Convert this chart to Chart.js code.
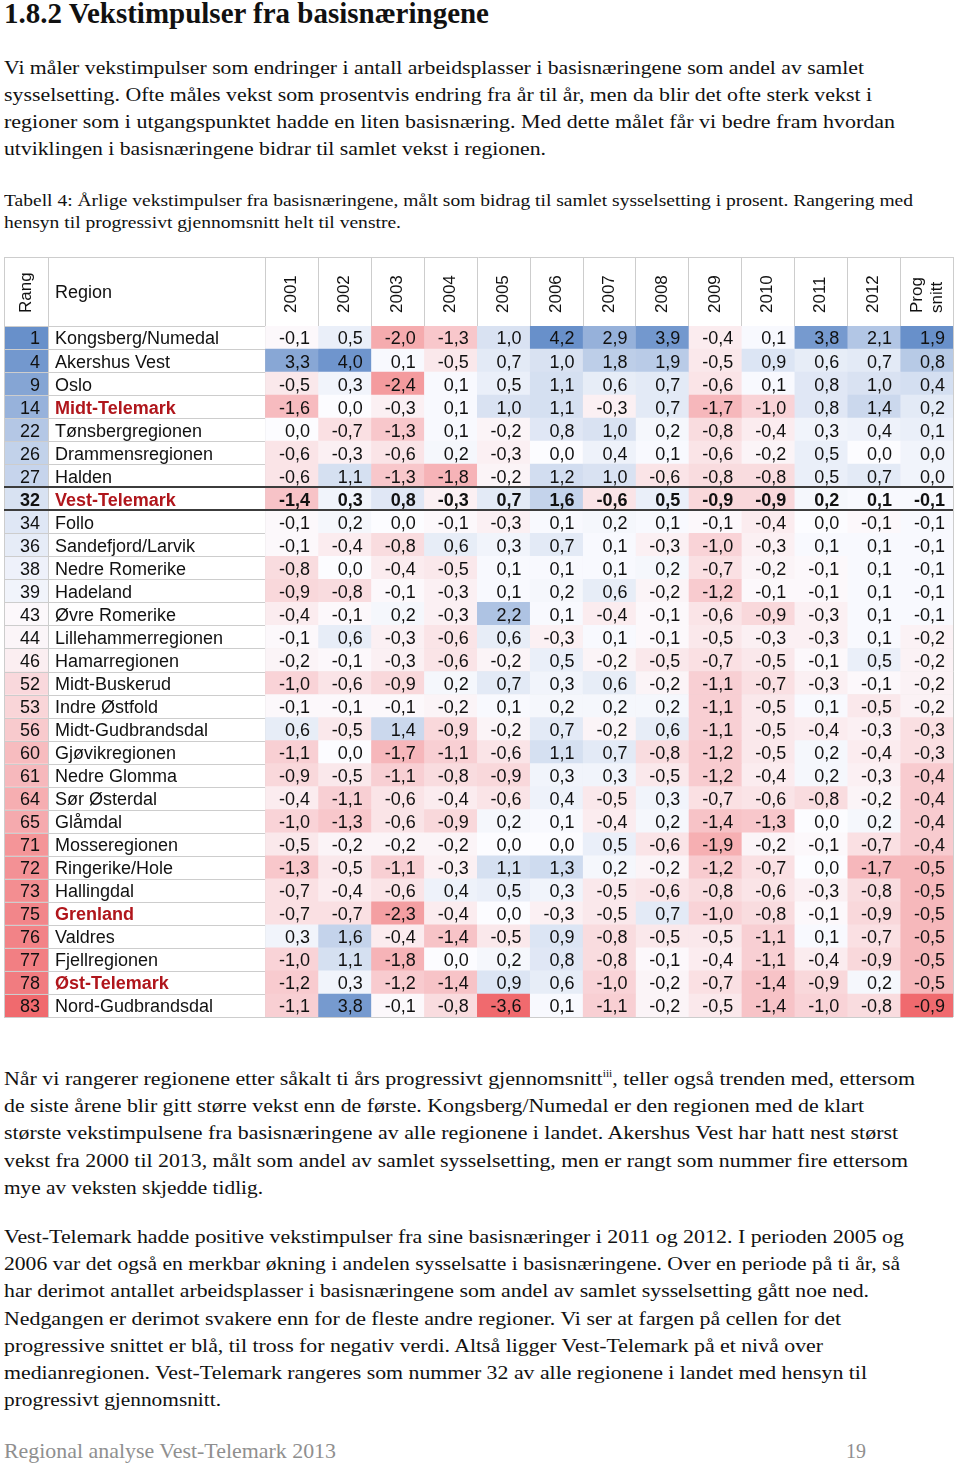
<!DOCTYPE html>
<html lang="no">
<head>
<meta charset="utf-8">
<title>Vekstimpulser fra basisnæringene</title>
<script src="https://cdn.jsdelivr.net/npm/chart.js@4.4.0/dist/chart.umd.min.js"></script>
<style>
    html, body { margin: 0; padding: 0; background: #fff; }
    body { width: 960px; height: 1466px; position: relative; overflow: hidden; font-family: "Liberation Serif", "DejaVu Serif", serif; color: #111; }
    .ln { position: absolute; left: 4px; white-space: nowrap; line-height: 1; font-size: 19px; transform-origin: 0 0; }
    .title { font-size: 29px; font-weight: bold; }
    .cap { font-size: 17px; }
    .foot { font-size: 22px; color: #8f8f8f; }
    sup { font-size: 10px; vertical-align: 8px; line-height: 0; }
    #tableWrap { position: absolute; left: 0; top: 250px; width: 960px; height: 772px; }
</style>
</head>
<body>

<div class="ln title" style="top:-1px" data-w="485">1.8.2 Vekstimpulser fra basisnæringene</div>

<div class="ln" style="top:58px" data-w="860">Vi måler vekstimpulser som endringer i antall arbeidsplasser i basisnæringene som andel av samlet</div>
<div class="ln" style="top:85px" data-w="868">sysselsetting. Ofte måles vekst som prosentvis endring fra år til år, men da blir det ofte sterk vekst i</div>
<div class="ln" style="top:112px" data-w="891">regioner som i utgangspunktet hadde en liten basisnæring. Med dette målet får vi bedre fram hvordan</div>
<div class="ln" style="top:139px" data-w="542">utviklingen i basisnæringene bidrar til samlet vekst i regionen.</div>

<div class="ln cap" style="top:192px" data-w="909">Tabell 4: Årlige vekstimpulser fra basisnæringene, målt som bidrag til samlet sysselsetting i prosent. Rangering med</div>
<div class="ln cap" style="top:214px" data-w="397">hensyn til progressivt gjennomsnitt helt til venstre.</div>

<div id="tableWrap"><canvas id="heatTable" width="960" height="772"></canvas></div>

<div class="ln" style="top:1069px" data-w="911">Når vi rangerer regionene etter såkalt ti års progressivt gjennomsnitt<sup>iii</sup>, teller også trenden med, ettersom</div>
<div class="ln" style="top:1096px" data-w="860">de siste årene blir gitt større vekst enn de første. Kongsberg/Numedal er den regionen med de klart</div>
<div class="ln" style="top:1123px" data-w="894">største vekstimpulsene fra basisnæringene av alle regionene i landet. Akershus Vest har hatt nest størst</div>
<div class="ln" style="top:1151px" data-w="904">vekst fra 2000 til 2013, målt som andel av samlet sysselsetting, men er rangt som nummer fire ettersom</div>
<div class="ln" style="top:1178px" data-w="259">mye av veksten skjedde tidlig.</div>

<div class="ln" style="top:1227px" data-w="900">Vest-Telemark hadde positive vekstimpulser fra sine basisnæringer i 2011 og 2012. I perioden 2005 og</div>
<div class="ln" style="top:1254px" data-w="896">2006 var det også en merkbar økning i andelen sysselsatte i basisnæringene. Over en periode på ti år, så</div>
<div class="ln" style="top:1281px" data-w="865">har derimot antallet arbeidsplasser i basisnæringene som andel av samlet sysselsetting gått noe ned.</div>
<div class="ln" style="top:1309px" data-w="837">Nedgangen er derimot svakere enn for de fleste andre regioner. Vi ser at fargen på cellen for det</div>
<div class="ln" style="top:1336px" data-w="819">progressive snittet er blå, til tross for negativ verdi. Altså ligger Vest-Telemark på et nivå over</div>
<div class="ln" style="top:1363px" data-w="863">medianregionen. Vest-Telemark rangeres som nummer 32 av alle regionene i landet med hensyn til</div>
<div class="ln" style="top:1390px" data-w="217">progressivt gjennomsnitt.</div>

<div class="ln foot" style="top:1440px" data-w="332">Regional analyse Vest-Telemark 2013</div>
<div class="ln foot" style="top:1440px; left:846px" data-w="20">19</div>

<script>
// Table data
const regions = [
    'Kongsberg/Numedal', 'Akershus Vest', 'Oslo', 'Midt-Telemark', 'Tønsbergregionen',
    'Drammensregionen', 'Halden', 'Vest-Telemark', 'Follo', 'Sandefjord/Larvik',
    'Nedre Romerike', 'Hadeland', 'Øvre Romerike', 'Lillehammerregionen', 'Hamarregionen',
    'Midt-Buskerud', 'Indre Østfold', 'Midt-Gudbrandsdal', 'Gjøvikregionen', 'Nedre Glomma',
    'Sør Østerdal', 'Glåmdal', 'Mosseregionen', 'Ringerike/Hole', 'Hallingdal',
    'Grenland', 'Valdres', 'Fjellregionen', 'Øst-Telemark', 'Nord-Gudbrandsdal'
];
const ranks = [1, 4, 9, 14, 22, 26, 27, 32, 34, 36, 38, 39, 43, 44, 46, 52, 53, 56, 60, 61, 64, 65, 71, 72, 73, 75, 76, 77, 78, 83];
const columnLabels = ['2001', '2002', '2003', '2004', '2005', '2006', '2007', '2008', '2009', '2010', '2011', '2012', 'Prog snitt'];

const y2001 = [-0.1, 3.3, -0.5, -1.6, 0.0, -0.6, -0.6, -1.4, -0.1, -0.1, -0.8, -0.9, -0.4, -0.1, -0.2, -1.0, -0.1, 0.6, -1.1, -0.9, -0.4, -1.0, -0.5, -1.3, -0.7, -0.7, 0.3, -1.0, -1.2, -1.1];
const y2002 = [0.5, 4.0, 0.3, 0.0, -0.7, -0.3, 1.1, 0.3, 0.2, -0.4, 0.0, -0.8, -0.1, 0.6, -0.1, -0.6, -0.1, -0.5, 0.0, -0.5, -1.1, -1.3, -0.2, -0.5, -0.4, -0.7, 1.6, 1.1, 0.3, 3.8];
const y2003 = [-2.0, 0.1, -2.4, -0.3, -1.3, -0.6, -1.3, 0.8, 0.0, -0.8, -0.4, -0.1, 0.2, -0.3, -0.3, -0.9, -0.1, 1.4, -1.7, -1.1, -0.6, -0.6, -0.2, -1.1, -0.6, -2.3, -0.4, -1.8, -1.2, -0.1];
const y2004 = [-1.3, -0.5, 0.1, 0.1, 0.1, 0.2, -1.8, -0.3, -0.1, 0.6, -0.5, -0.3, -0.3, -0.6, -0.6, 0.2, -0.2, -0.9, -1.1, -0.8, -0.4, -0.9, -0.2, -0.3, 0.4, -0.4, -1.4, 0.0, -1.4, -0.8];
const y2005 = [1.0, 0.7, 0.5, 1.0, -0.2, -0.3, -0.2, 0.7, -0.3, 0.3, 0.1, 0.1, 2.2, 0.6, -0.2, 0.7, 0.1, -0.2, -0.6, -0.9, -0.6, 0.2, 0.0, 1.1, 0.5, 0.0, -0.5, 0.2, 0.9, -3.6];
const y2006 = [4.2, 1.0, 1.1, 1.1, 0.8, 0.0, 1.2, 1.6, 0.1, 0.7, 0.1, 0.2, 0.1, -0.3, 0.5, 0.3, 0.2, 0.7, 1.1, 0.3, 0.4, 0.1, 0.0, 1.3, 0.3, -0.3, 0.9, 0.8, 0.6, 0.1];
const y2007 = [2.9, 1.8, 0.6, -0.3, 1.0, 0.4, 1.0, -0.6, 0.2, 0.1, 0.1, 0.6, -0.4, 0.1, -0.2, 0.6, 0.2, -0.2, 0.7, 0.3, -0.5, -0.4, 0.5, 0.2, -0.5, -0.5, -0.8, -0.8, -1.0, -1.1];
const y2008 = [3.9, 1.9, 0.7, 0.7, 0.2, 0.1, -0.6, 0.5, 0.1, -0.3, 0.2, -0.2, -0.1, -0.1, -0.5, -0.2, 0.2, 0.6, -0.8, -0.5, 0.3, 0.2, -0.6, -0.2, -0.6, 0.7, -0.5, -0.1, -0.2, -0.2];
const y2009 = [-0.4, -0.5, -0.6, -1.7, -0.8, -0.6, -0.8, -0.9, -0.1, -1.0, -0.7, -1.2, -0.6, -0.5, -0.7, -1.1, -1.1, -1.1, -1.2, -1.2, -0.7, -1.4, -1.9, -1.2, -0.8, -1.0, -0.5, -0.4, -0.7, -0.5];
const y2010 = [0.1, 0.9, 0.1, -1.0, -0.4, -0.2, -0.8, -0.9, -0.4, -0.3, -0.2, -0.1, -0.9, -0.3, -0.5, -0.7, -0.5, -0.5, -0.5, -0.4, -0.6, -1.3, -0.2, -0.7, -0.6, -0.8, -1.1, -1.1, -1.4, -1.4];
const y2011 = [3.8, 0.6, 0.8, 0.8, 0.3, 0.5, 0.5, 0.2, 0.0, 0.1, -0.1, -0.1, -0.3, -0.3, -0.1, -0.3, 0.1, -0.4, 0.2, 0.2, -0.8, 0.0, -0.1, 0.0, -0.3, -0.1, 0.1, -0.4, -0.9, -1.0];
const y2012 = [2.1, 0.7, 1.0, 1.4, 0.4, 0.0, 0.7, 0.1, -0.1, 0.1, 0.1, 0.1, 0.1, 0.1, 0.5, -0.1, -0.5, -0.3, -0.4, -0.3, -0.2, 0.2, -0.7, -1.7, -0.8, -0.9, -0.7, -0.9, 0.2, -0.8];
const progSnitt = [1.9, 0.8, 0.4, 0.2, 0.1, 0.0, 0.0, -0.1, -0.1, -0.1, -0.1, -0.1, -0.1, -0.2, -0.2, -0.2, -0.2, -0.3, -0.3, -0.4, -0.4, -0.4, -0.4, -0.5, -0.5, -0.5, -0.5, -0.5, -0.5, -0.9];

const yearColumns = [y2001, y2002, y2003, y2004, y2005, y2006, y2007, y2008, y2009, y2010, y2011, y2012];
const columns = [...yearColumns, progSnitt];

// Telemark regions are marked red, the focus region gets bold row + frame
const redRegions = ['Midt-Telemark', 'Vest-Telemark', 'Grenland', 'Øst-Telemark'];
const focusRegion = 'Vest-Telemark';
const progMedian = -0.15; // median of all 83 regions

// Colour scale (blue - white - red, like the spreadsheet)
const BLUE = [104, 144, 202];
const WHITE = [252, 252, 255];
const RED = [240, 106, 110];
const GRID = '#cdcdcd';
const FONT = '"Liberation Sans", Arial, sans-serif';

function mix(a, b, t) {
    t = Math.max(0, Math.min(1, t));
    return 'rgb(' + a.map((v, i) => Math.round(v + (b[i] - v) * t)).join(',') + ')';
}

function scaleColor(v, lo, mid, hi) {
    if (v >= mid) return mix(WHITE, BLUE, (v - mid) / (hi - mid));
    return mix(WHITE, RED, (mid - v) / (mid - lo));
}

const allYears = yearColumns.flat();
const yearMin = Math.min(...allYears), yearMax = Math.max(...allYears);
const progMin = Math.min(...progSnitt), progMax = Math.max(...progSnitt);

function cellColor(v, isProg) {
    return isProg ? scaleColor(v, progMin, progMedian, progMax) : scaleColor(v, yearMin, 0, yearMax);
}

function rankColor(r) {
    // rank 1 is best (blue), 83 is worst (red)
    return scaleColor(-r, -83, -42, -1);
}

function fmt(v) {
    return v.toFixed(1).replace('.', ',');
}

function crisp(p) {
    return Math.round(p) + 0.5;
}

// Header, rank column, region names and cell values
const tablePlugin = {
    id: 'tableText',
    afterDraw(chart) {
        const { ctx, chartArea, scales } = chart;
        const xs = scales.x, ys = scales.y;
        const rowH = ys.getPixelForValue(1) - ys.getPixelForValue(0);
        const headTop = chartArea.top - 69;
        const left = 4, rangRight = 48;
        const rowTop = i => ys.getPixelForValue(i) - rowH / 2;

        ctx.save();

        // rank cells
        ranks.forEach((r, i) => {
            ctx.fillStyle = rankColor(r);
            ctx.fillRect(left, rowTop(i), rangRight - left, rowH);
        });

        // extra grid lines (header + left columns)
        ctx.strokeStyle = GRID;
        ctx.lineWidth = 1;
        ctx.beginPath();
        for (let i = 0; i <= regions.length; i++) {
            const y = crisp(rowTop(i));
            ctx.moveTo(left, y);
            ctx.lineTo(chartArea.left, y);
        }
        ctx.moveTo(left, crisp(headTop));
        ctx.lineTo(xs.getPixelForValue(columns.length), crisp(headTop));
        [left, rangRight].forEach(x => {
            ctx.moveTo(crisp(x), headTop);
            ctx.lineTo(crisp(x), chartArea.bottom);
        });
        for (let c = 0; c <= columns.length; c++) {
            const x = crisp(xs.getPixelForValue(c));
            ctx.moveTo(x, headTop);
            ctx.lineTo(x, chartArea.top);
        }
        ctx.stroke();

        // header
        ctx.fillStyle = '#111';
        const rotated = (txt, cx, bottom) => {
            ctx.save();
            ctx.translate(cx, bottom);
            ctx.rotate(-Math.PI / 2);
            ctx.textAlign = 'left';
            ctx.textBaseline = 'middle';
            ctx.fillText(txt, 0, 0);
            ctx.restore();
        };
        ctx.font = '17px ' + FONT;
        const labelBottom = chartArea.top - 13;
        rotated('Rang', (left + rangRight) / 2, labelBottom);
        columnLabels.forEach((lab, c) => {
            const cx = (xs.getPixelForValue(c) + xs.getPixelForValue(c + 1)) / 2;
            const parts = lab.split(' ');
            if (parts.length === 2) {
                rotated(parts[0], cx - 9, labelBottom);
                rotated(parts[1], cx + 11, labelBottom);
            } else {
                rotated(lab, cx, labelBottom);
            }
        });
        ctx.font = '18px ' + FONT;
        ctx.textAlign = 'left';
        ctx.textBaseline = 'middle';
        ctx.fillText('Region', 55, chartArea.top - 33);

        // rows
        regions.forEach((name, i) => {
            const yc = ys.getPixelForValue(i) + 2;
            const isFocus = name === focusRegion;
            ctx.font = (isFocus ? 'bold ' : '') + '18px ' + FONT;
            ctx.fillStyle = '#111';
            ctx.textAlign = 'right';
            ctx.fillText(String(ranks[i]), rangRight - 8, yc);

            const isRed = redRegions.includes(name);
            ctx.font = (isRed ? 'bold ' : '') + '18px ' + FONT;
            ctx.fillStyle = isRed ? '#b0161c' : '#111';
            ctx.textAlign = 'left';
            ctx.fillText(name, 55, yc);
        });

        // cell values
        ctx.fillStyle = '#111';
        ctx.textAlign = 'right';
        chart.data.datasets.forEach((ds, c) => {
            const meta = chart.getDatasetMeta(c);
            meta.data.forEach((bar, i) => {
                const isFocus = regions[i] === focusRegion;
                ctx.font = (isFocus ? 'bold ' : '') + '18px ' + FONT;
                const right = Math.max(bar.x, bar.base);
                ctx.fillText(fmt(ds.values[i]), right - 8, bar.y + 2);
            });
        });

        // frame around the focus row
        const fi = regions.indexOf(focusRegion);
        ctx.strokeStyle = '#3c3c3c';
        ctx.lineWidth = 2;
        ctx.beginPath();
        [rowTop(fi), rowTop(fi + 1)].forEach(y => {
            ctx.moveTo(left, Math.round(y));
            ctx.lineTo(xs.getPixelForValue(columns.length), Math.round(y));
        });
        ctx.stroke();

        ctx.restore();
    }
};

function drawTable() {
    const ctx = document.getElementById('heatTable');

    const datasets = columns.map((vals, c) => ({
        label: columnLabels[c],
        values: vals,
        data: vals.map(() => [c, c + 1]),
        backgroundColor: vals.map(v => cellColor(v, c === columns.length - 1)),
        borderWidth: 0,
        barPercentage: 1,
        categoryPercentage: 1,
        grouped: false
    }));

    new Chart(ctx, {
        type: 'bar',
        data: { labels: regions, datasets: datasets },
        options: {
            indexAxis: 'y',
            responsive: false,
            animation: false,
            layout: { padding: { top: 76, left: 265, right: 7, bottom: 5 } },
            plugins: {
                legend: { display: false },
                tooltip: { enabled: false }
            },
            scales: {
                x: {
                    type: 'linear',
                    position: 'top',
                    min: 0,
                    max: columns.length,
                    z: 1,
                    ticks: { display: false, stepSize: 1 },
                    grid: { color: GRID, drawTicks: false },
                    border: { display: false },
                    afterFit: s => { s.height = 0; }
                },
                y: {
                    type: 'category',
                    offset: true,
                    z: 1,
                    ticks: { display: false },
                    grid: { color: GRID, drawTicks: false, offset: true },
                    border: { display: false },
                    afterFit: s => { s.width = 0; }
                }
            }
        },
        plugins: [tablePlugin]
    });
}

// Stretch each text line to the width it has in the printed page
function fitLines() {
    document.querySelectorAll('.ln[data-w]').forEach(el => {
        const w = el.getBoundingClientRect().width;
        if (w > 0) el.style.transform = 'scaleX(' + (el.dataset.w / w) + ')';
    });
}

document.addEventListener('DOMContentLoaded', () => {
    drawTable();
    if (document.fonts && document.fonts.ready) {
        document.fonts.ready.then(fitLines);
    } else {
        fitLines();
    }
});
</script>
</body>
</html>
